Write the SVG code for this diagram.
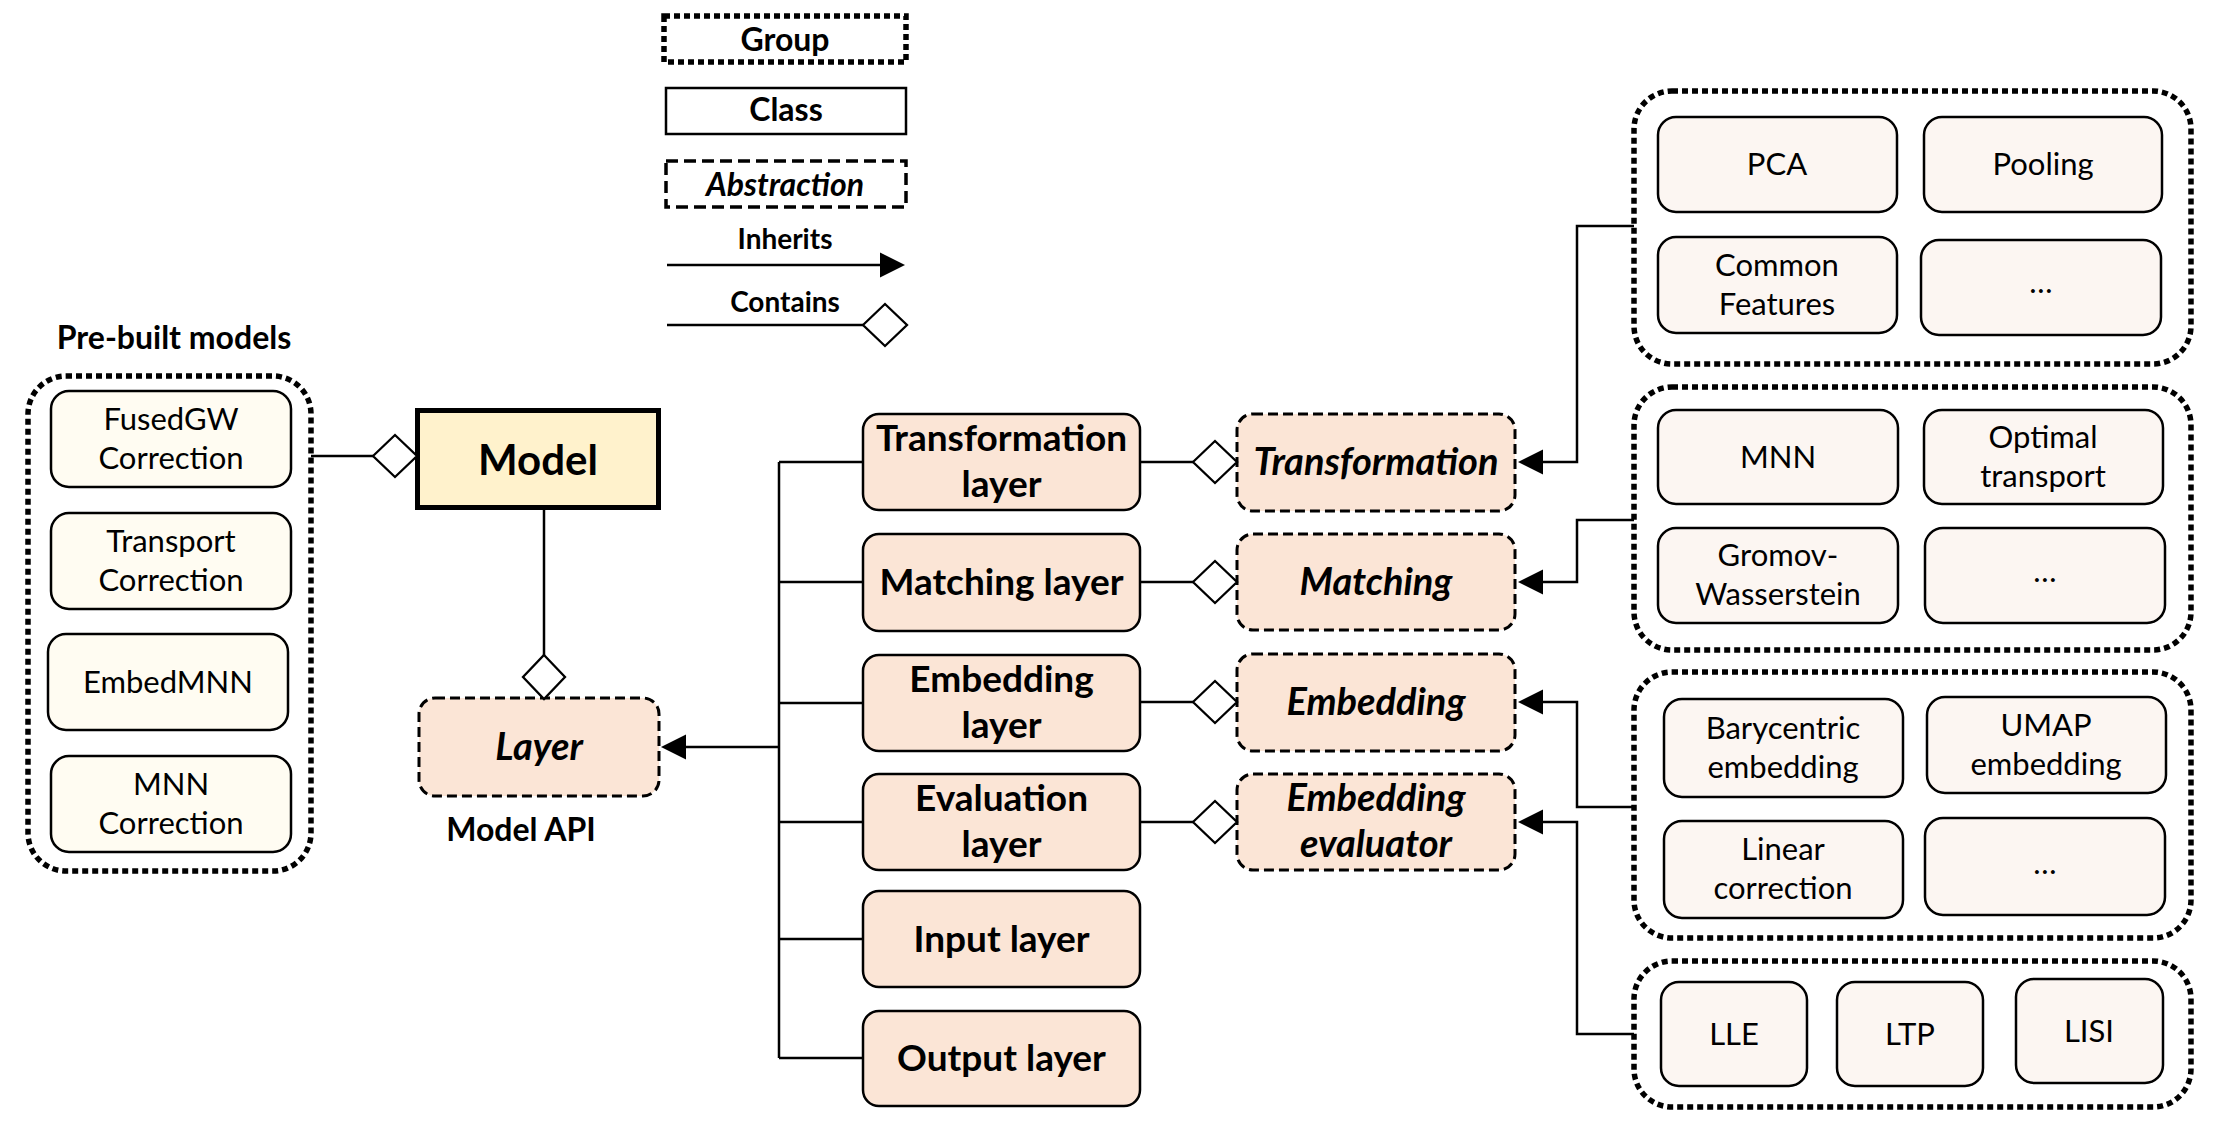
<svg xmlns="http://www.w3.org/2000/svg" width="2215" height="1129" viewBox="0 0 2215 1129">
<style>
text{font-family:Lato,"Open Sans","Liberation Sans",sans-serif;text-anchor:middle;fill:#000}
.r{font-size:31px}
.b{font-size:37px;font-weight:700}
.bi{font-size:38px;font-weight:700;font-style:italic}
.lg{font-size:32px;font-weight:700}
.sm{font-size:28px;font-weight:700}
.grp{fill:none;stroke:#000;stroke-width:5.5;stroke-dasharray:6 4}
.pb{fill:#FFFCF2;stroke:#000;stroke-width:2.5}
.it{fill:#FCF6F2;stroke:#000;stroke-width:2.5}
.cls{fill:#FBE5D6;stroke:#000;stroke-width:2.5}
.abs{fill:#FBE5D6;stroke:#000;stroke-width:3;stroke-dasharray:10 5}
.ln{fill:none;stroke:#000;stroke-width:2.5}
</style>
<defs>
<marker id="dia" markerUnits="userSpaceOnUse" viewBox="0 0 48 46" markerWidth="48" markerHeight="46" refX="2" refY="23" orient="auto">
<path d="M2,23 L24,2 L46,23 L24,44 Z" fill="#fff" stroke="#000" stroke-width="2.3"/>
</marker>
<marker id="tri" markerUnits="userSpaceOnUse" viewBox="0 0 26 26" markerWidth="26" markerHeight="26" refX="0" refY="13" orient="auto">
<path d="M0,0.5 L25,13 L0,25.5 Z" fill="#000"/>
</marker>
</defs>

<g id="legend">
<rect x="664" y="16" width="242" height="46" class="grp" stroke-width="5"/>
<text x="785" y="51" class="lg">Group</text>
<rect x="666" y="88" width="240" height="46" fill="#fff" stroke="#000" stroke-width="2.5"/>
<text x="786" y="121" class="lg">Class</text>
<rect x="666" y="161" width="240" height="46" fill="#fff" stroke="#000" stroke-width="3.5" stroke-dasharray="12 6"/>
<text x="785" y="196" class="lg" font-style="italic" font-size="33">Abstraction</text>
<text x="785" y="249" class="sm">Inherits</text>
<path d="M667,265 H880" class="ln" marker-end="url(#tri)"/>
<text x="785" y="312" class="sm">Contains</text>
<path d="M667,325 H863" class="ln" marker-end="url(#dia)"/>
</g>

<g id="prebuilt">
<text x="174" y="349" class="lg">Pre-built models</text>
<rect x="28" y="376" width="283" height="495" rx="38" class="grp"/>
<g id="fusedgw"><rect x="51" y="391" width="240" height="96" rx="18" class="pb"/><text x="171" y="430" class="r">FusedGW</text><text x="171" y="469" class="r">Correction</text></g>
<g id="transport"><rect x="51" y="513" width="240" height="96" rx="18" class="pb"/><text x="171" y="552" class="r">Transport</text><text x="171" y="591" class="r">Correction</text></g>
<g id="embedmnn"><rect x="48" y="634" width="240" height="96" rx="18" class="pb"/><text x="168" y="693" class="r">EmbedMNN</text></g>
<g id="mnncorr"><rect x="51" y="756" width="240" height="96" rx="18" class="pb"/><text x="171" y="795" class="r">MNN</text><text x="171" y="834" class="r">Correction</text></g>
</g>

<g id="model"><rect x="417.5" y="410.5" width="241" height="97" fill="#FFF2CC" stroke="#000" stroke-width="5"/><text x="538" y="475" font-size="42" font-weight="700">Model</text></g>

<g id="layer"><rect x="419" y="698" width="240" height="98" rx="16" class="abs"/><text x="539" y="760" class="bi">Layer</text></g>
<text x="521" y="841" class="lg">Model API</text>

<g id="transformation-layer"><rect x="863" y="414" width="277" height="96" rx="16" class="cls"/><text x="1001.5" y="451" class="b">Transformation</text><text x="1001.5" y="497" class="b">layer</text></g>
<g id="matching-layer"><rect x="863" y="534" width="277" height="97" rx="16" class="cls"/><text x="1001.5" y="595" class="b">Matching layer</text></g>
<g id="embedding-layer"><rect x="863" y="655" width="277" height="96" rx="16" class="cls"/><text x="1001.5" y="692" class="b">Embedding</text><text x="1001.5" y="738" class="b">layer</text></g>
<g id="evaluation-layer"><rect x="863" y="774" width="277" height="96" rx="16" class="cls"/><text x="1001.5" y="811" class="b">Evaluation</text><text x="1001.5" y="857" class="b">layer</text></g>
<g id="input-layer"><rect x="863" y="891" width="277" height="96" rx="16" class="cls"/><text x="1001.5" y="952" class="b">Input layer</text></g>
<g id="output-layer"><rect x="863" y="1011" width="277" height="95" rx="16" class="cls"/><text x="1001.5" y="1071" class="b">Output layer</text></g>

<g id="transformation"><rect x="1237" y="414" width="278" height="97" rx="16" class="abs"/><text x="1376" y="475" class="bi">Transformation</text></g>
<g id="matching"><rect x="1237" y="534" width="278" height="96" rx="16" class="abs"/><text x="1376" y="595" class="bi">Matching</text></g>
<g id="embedding"><rect x="1237" y="654" width="278" height="97" rx="16" class="abs"/><text x="1376" y="715" class="bi">Embedding</text></g>
<g id="embedding-evaluator"><rect x="1237" y="774" width="278" height="96" rx="16" class="abs"/><text x="1376" y="811" class="bi">Embedding</text><text x="1376" y="857" class="bi">evaluator</text></g>

<g id="group-transformations">
<rect x="1634" y="91" width="557" height="273" rx="38" class="grp"/>
<g id="pca"><rect x="1658" y="117" width="239" height="95" rx="18" class="it"/><text x="1777" y="175" class="r">PCA</text></g>
<g id="pooling"><rect x="1924" y="117" width="238" height="95" rx="18" class="it"/><text x="2043" y="175" class="r">Pooling</text></g>
<g id="common-features"><rect x="1658" y="237" width="239" height="96" rx="18" class="it"/><text x="1777" y="276" class="r">Common</text><text x="1777" y="315" class="r">Features</text></g>
<g id="t-more"><rect x="1921" y="240" width="240" height="95" rx="18" class="it"/><text x="2041" y="293" class="r">…</text></g>
</g>

<g id="group-matchings">
<rect x="1634" y="387" width="557" height="263" rx="38" class="grp"/>
<g id="mnn"><rect x="1658" y="410" width="240" height="94" rx="18" class="it"/><text x="1778" y="468" class="r">MNN</text></g>
<g id="optimal-transport"><rect x="1924" y="410" width="239" height="94" rx="18" class="it"/><text x="2043" y="448" class="r">Optimal</text><text x="2043" y="487" class="r">transport</text></g>
<g id="gromov"><rect x="1658" y="528" width="240" height="95" rx="18" class="it"/><text x="1778" y="566" class="r">Gromov-</text><text x="1778" y="605" class="r">Wasserstein</text></g>
<g id="m-more"><rect x="1925" y="528" width="240" height="95" rx="18" class="it"/><text x="2045" y="582" class="r">…</text></g>
</g>

<g id="group-embeddings">
<rect x="1634" y="672" width="557" height="266" rx="38" class="grp"/>
<g id="barycentric"><rect x="1664" y="699" width="239" height="98" rx="18" class="it"/><text x="1783" y="739" class="r">Barycentric</text><text x="1783" y="778" class="r">embedding</text></g>
<g id="umap"><rect x="1927" y="697" width="239" height="96" rx="18" class="it"/><text x="2046" y="736" class="r">UMAP</text><text x="2046" y="775" class="r">embedding</text></g>
<g id="linear"><rect x="1664" y="821" width="239" height="97" rx="18" class="it"/><text x="1783" y="860" class="r">Linear</text><text x="1783" y="899" class="r">correction</text></g>
<g id="e-more"><rect x="1925" y="818" width="240" height="97" rx="18" class="it"/><text x="2045" y="874" class="r">…</text></g>
</g>

<g id="group-evaluators">
<rect x="1634" y="961" width="557" height="146" rx="38" class="grp"/>
<g id="lle"><rect x="1661" y="982" width="146" height="104" rx="18" class="it"/><text x="1734" y="1045" class="r">LLE</text></g>
<g id="ltp"><rect x="1837" y="982" width="146" height="104" rx="18" class="it"/><text x="1910" y="1045" class="r">LTP</text></g>
<g id="lisi"><rect x="2016" y="979" width="147" height="104" rx="18" class="it"/><text x="2089" y="1042" class="r">LISI</text></g>
</g>

<g id="connectors">
<path d="M311,456 H373" class="ln" marker-end="url(#dia)"/>
<path d="M544,508 V655" class="ln" marker-end="url(#dia)"/>
<path d="M779,462 V1058" class="ln"/>
<path d="M779,462 H863 M779,582 H863 M779,703 H863 M779,822 H863 M779,939 H863 M779,1058 H863" class="ln"/>
<path d="M779,747 H686" class="ln" marker-end="url(#tri)"/>
<path d="M1140,462 H1193" class="ln" marker-end="url(#dia)"/>
<path d="M1140,582 H1193" class="ln" marker-end="url(#dia)"/>
<path d="M1140,702 H1193" class="ln" marker-end="url(#dia)"/>
<path d="M1140,822 H1193" class="ln" marker-end="url(#dia)"/>
<path d="M1634,226 H1577 V462 H1543" class="ln" marker-end="url(#tri)"/>
<path d="M1634,520 H1577 V582 H1543" class="ln" marker-end="url(#tri)"/>
<path d="M1634,807 H1577 V702 H1543" class="ln" marker-end="url(#tri)"/>
<path d="M1634,1034 H1577 V822 H1543" class="ln" marker-end="url(#tri)"/>
</g>
</svg>
